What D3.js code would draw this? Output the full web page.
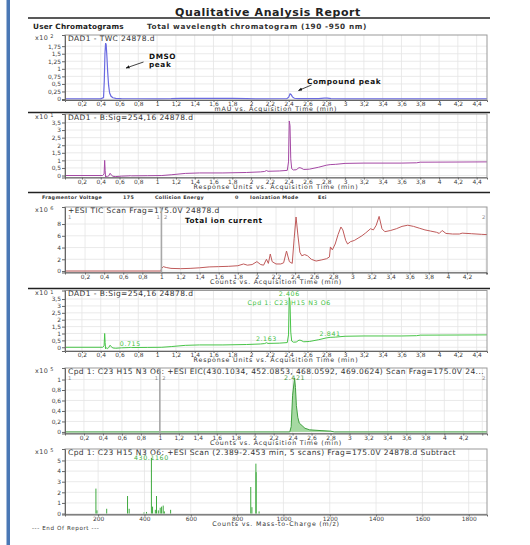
<!DOCTYPE html>
<html>
<head>
<meta charset="utf-8">
<script src="https://cdn.jsdelivr.net/npm/d3@7"></script>
<style>
  body { margin: 0; background: #fff; }
  svg { display: block; }
</style>
</head>
<body>
<svg id="report" width="530" height="545"></svg>
<script>
// ---- Data ---------------------------------------------------------------
// DAD1 total wavelength chromatogram: [time (min), mAU x10^2]
const twcTrace = [
  [0.02,0.005],[0.40,0.005],[0.43,0.05],[0.438,0.6],[0.445,1.5],[0.452,1.85],[0.458,1.8],
  [0.466,1.4],[0.474,0.9],[0.484,0.45],[0.495,0.2],[0.51,0.09],[0.53,0.04],[0.56,0.02],
  [0.62,0.01],[0.8,0.008],[1.0,0.006],[1.15,0.01],[1.25,0.02],[1.5,0.022],[1.8,0.02],
  [1.95,0.015],[2.05,0.006],[2.3,0.008],[2.38,0.012],[2.40,0.06],[2.415,0.17],[2.425,0.15],
  [2.44,0.07],[2.46,0.025],[2.5,0.01],[2.72,0.01],[2.78,0.03],[2.81,0.03],[2.85,0.01],
  [3.0,0.006],[3.5,0.005],[4.0,0.005],[4.51,0.005]
];

// DAD1 B: Sig=254,16 signal: [time (min), response x10^1]
const sigTrace = [
  [0.02,0],[0.42,0],[0.436,0.1],[0.442,1.0],[0.447,0.35],[0.452,-0.12],[0.462,-0.03],
  [0.472,-0.1],[0.485,-0.02],[0.50,0.15],[0.512,0.04],[0.53,-0.05],[0.56,-0.07],[0.62,-0.04],
  [0.70,-0.02],[0.715,-0.01],[0.73,-0.02],[0.9,-0.01],[1.05,0],[1.15,0.05],[1.3,0.14],
  [1.45,0.17],[1.7,0.17],[1.95,0.2],[2.1,0.24],[2.145,0.27],[2.163,0.33],[2.18,0.28],
  [2.3,0.3],[2.385,0.34],[2.398,0.9],[2.406,3.6],[2.414,3.3],[2.422,1.1],[2.432,0.45],
  [2.45,0.37],[2.48,0.38],[2.51,0.52],[2.53,0.5],[2.56,0.4],[2.62,0.42],[2.72,0.55],
  [2.8,0.68],[2.841,0.72],[2.9,0.74],[3.0,0.8],[3.2,0.82],[3.6,0.82],[3.76,0.84],
  [3.8,0.88],[4.2,0.89],[4.51,0.9]
];

// Integrated peaks on the 254 nm signal (retention times, min)
const sigPeakTimes = [0.715, 2.163, 2.406, 2.841];

// +ESI TIC: [time (min), counts x10^6]
const ticTrace = [
  [-0.01,0],[0.995,0],[1.0,0.4],[1.02,0.75],[1.05,0.6],[1.1,0.45],[1.2,0.4],[1.3,0.45],
  [1.4,0.55],[1.5,0.7],[1.6,0.75],[1.7,0.8],[1.8,0.9],[1.86,1.2],[1.9,1.0],[1.95,1.1],
  [2.0,1.6],[2.04,1.1],[2.07,1.0],[2.10,2.0],[2.12,1.3],[2.14,2.9],[2.16,1.6],[2.2,1.2],
  [2.25,1.2],[2.28,1.4],[2.31,3.4],[2.34,1.6],[2.37,1.3],[2.39,5.5],[2.41,9.2],[2.43,6.0],
  [2.45,3.2],[2.47,2.6],[2.50,2.8],[2.53,2.6],[2.57,2.0],[2.62,1.7],[2.68,1.9],[2.73,2.1],
  [2.76,2.4],[2.77,4.1],[2.79,3.6],[2.82,4.6],[2.85,6.2],[2.88,7.5],[2.90,7.0],[2.93,5.2],
  [2.95,4.6],[2.98,5.0],[3.02,5.2],[3.06,5.6],[3.1,6.0],[3.14,6.5],[3.19,7.2],[3.22,7.0],
  [3.25,7.8],[3.28,9.3],[3.31,7.2],[3.34,6.7],[3.4,6.9],[3.46,7.2],[3.52,7.6],[3.58,7.8],
  [3.64,7.6],[3.7,7.3],[3.76,7.0],[3.82,6.8],[3.88,6.6],[3.91,6.4],[3.94,6.9],[3.98,6.4],
  [4.05,6.3],[4.12,6.3],[4.15,6.45],[4.25,6.35],[4.35,6.25],[4.41,6.2]
];

// Cpd 1 extracted ion chromatogram: [time (min), counts x10^5]
const eicTrace = [
  [0,0],[2.37,0],[2.385,0.1],[2.40,0.7],[2.421,1.03],[2.43,0.85],[2.44,0.5],[2.455,0.28],
  [2.47,0.17],[2.5,0.12],[2.53,0.07],[2.58,0.04],[2.7,0.025],[2.8,0.015],[2.84,0],[4.45,0]
];
const eicApex = 2.421;

// Cpd 1 mass spectrum (2.389-2.453 min)
const specMz    = [190.5, 195, 237, 327, 334, 398, 409, 430.116, 435, 447, 452.09, 460,
                   468.06, 474, 481, 486, 513, 859, 864, 881.2, 882.2, 895];
const specAbund = [2.35, 0.3, 0.45, 1.65, 0.45, 0.1, 0.15, 5.25, 0.65, 0.35, 1.65, 0.3,
                   0.55, 0.65, 0.75, 0.2, 0.35, 2.5, 0.6, 4.7, 3.9, 0.2];
const specBasePeak = 430.116;

// Axis ticks
const timeTicks = [0.2,0.4,0.6,0.8,1,1.2,1.4,1.6,1.8,2,2.2,2.4,2.6,2.8,3,3.2,3.4,3.6,3.8,4,4.2,4.4];
const twcTicks  = [0,0.25,0.5,0.75,1,1.25,1.5,1.75];
const sigTicks  = [0,0.5,1,1.5,2,2.5,3,3.5];
const ticTicks  = [0,2,4,6,8];
const eicTicks  = [0,0.2,0.4,0.6,0.8,1];
const mzTicks   = [200,400,600,800,1000,1200,1400,1600,1800];
const specTicks = [0,1,2,3,4,5];

// ---- Drawing ------------------------------------------------------------
const FONT = '"DejaVu Sans", Verdana, sans-serif';
const svg = d3.select("#report").attr("font-family", FONT);
const L = 65, R = 487;
const comma = d => String(+d.toFixed(2)).replace(".", ",");
let clipId = 0;

// Frame, grid, axes and header for one chromatogram / spectrum box
function drawPanel(p) {
  const x = d3.scaleLinear().domain(p.xDomain).range([L, R]);
  const y = d3.scaleLinear().domain(p.yDomain).range([p.bottom, p.top]);
  const g = svg.append("g");

  g.append("g").selectAll("line").data(p.xTicks).join("line")
    .attr("x1", d => x(d)).attr("x2", d => x(d))
    .attr("y1", p.top).attr("y2", p.bottom)
    .attr("stroke", "#e4e4e4").attr("stroke-width", 0.8);
  g.append("g").selectAll("line").data(p.yTicks).join("line")
    .attr("x1", L).attr("x2", R)
    .attr("y1", d => y(d)).attr("y2", d => y(d))
    .attr("stroke", "#e4e4e4").attr("stroke-width", 0.8);

  const id = "clip" + (clipId++);
  g.append("clipPath").attr("id", id).append("rect")
    .attr("x", L).attr("y", p.top).attr("width", R - L).attr("height", p.bottom - p.top);
  const plot = g.append("g").attr("clip-path", `url(#${id})`);

  const frame = g.append("g");
  frame.append("rect")
    .attr("x", L).attr("y", p.top).attr("width", R - L).attr("height", p.bottom - p.top)
    .attr("fill", "none").attr("stroke", "#9a9a9a").attr("stroke-width", 1);

  const xa = frame.append("g").attr("transform", `translate(0,${p.bottom})`)
    .call(d3.axisBottom(x).tickValues(p.xTicks).tickFormat(p.xFormat)
      .tickSizeOuter(0).tickSize(2).tickPadding(0));
  const ya = frame.append("g").attr("transform", `translate(${L},0)`)
    .call(d3.axisLeft(y).tickValues(p.yTicks).tickFormat(p.yFormat)
      .tickSizeOuter(0).tickSize(3).tickPadding(1));
  [xa, ya].forEach(a => {
    a.attr("font-family", FONT).attr("font-size", 5.9);
    a.select(".domain").attr("stroke", "#666");
    a.selectAll(".tick line").attr("stroke", "#666");
    a.selectAll(".tick text").attr("fill", "#3c3c3c");
  });

  frame.append("text").attr("x", (L + R) / 2).attr("y", p.bottom + 11.4)
    .attr("text-anchor", "middle").attr("font-size", 6.3).attr("letter-spacing", 0.8)
    .attr("fill", "#333").text(p.xTitle);

  const mult = frame.append("text").attr("x", 35).attr("y", p.top + 4.5)
    .attr("font-size", 6.4).attr("letter-spacing", 0.4).attr("fill", "#444");
  mult.append("tspan").text("x10");
  mult.append("tspan").attr("dx", 2).attr("dy", -1.5).attr("font-size", 5).text(p.exponent);

  frame.append("text").attr("x", L + 3).attr("y", p.top + 5.5)
    .attr("font-size", 7.5).attr("letter-spacing", 0.42).attr("fill", "#333").text(p.header);

  return { x, y, plot, frame };
}

// Separators and report header
const rules = [18, 112.5, 192.5, 288.5];
svg.append("g").selectAll("line").data(rules).join("line")
  .attr("x1", 28).attr("x2", 490).attr("y1", d => d).attr("y2", d => d)
  .attr("stroke", "#222").attr("stroke-width", 1.3);

svg.append("rect").attr("x", 6.5).attr("y", 0).attr("width", 3.5).attr("height", 545)
  .attr("fill", "#4a78b5");

svg.append("text").attr("x", 268).attr("y", 15.5).attr("text-anchor", "middle")
  .attr("font-size", 11).attr("letter-spacing", 0.6).attr("font-weight", "bold").attr("fill", "#222")
  .text("Qualitative Analysis Report");
svg.append("text").attr("x", 33).attr("y", 29).attr("font-size", 7.3).attr("letter-spacing", 0.2)
  .attr("font-weight", "bold").attr("fill", "#222").text("User Chromatograms");
svg.append("text").attr("x", 147).attr("y", 28.5).attr("font-size", 7.3).attr("letter-spacing", 0.6)
  .attr("font-weight", "bold").attr("fill", "#333")
  .text("Total wavelength chromatogram (190 -950 nm)");

// Panel 1: TWC
{
  const p = drawPanel({
    top: 35, bottom: 100, xDomain: [0.02, 4.51], yDomain: [-0.033, 2.12],
    xTicks: timeTicks, yTicks: twcTicks, xFormat: comma, yFormat: comma,
    exponent: "2", header: "DAD1 - TWC 24878.d", xTitle: "mAU vs. Acquisition Time (min)"
  });
  p.plot.append("path").datum(twcTrace)
    .attr("d", d3.line().x(d => p.x(d[0])).y(d => p.y(d[1])))
    .attr("fill", "none").attr("stroke", "#6a6ae0").attr("stroke-width", 1.2);

  const note = svg.append("g").attr("fill", "#111").attr("font-weight", "bold")
    .attr("font-size", 7.3).attr("letter-spacing", 0.6);
  note.append("text").attr("x", 149).attr("y", 59).text("DMSO");
  note.append("text").attr("x", 149).attr("y", 66.5).text("peak");
  note.append("text").attr("x", 307).attr("y", 83.5).text("Compound peak");

  const defs = svg.append("defs");
  defs.append("marker").attr("id", "arrow").attr("viewBox", "0 0 10 10")
    .attr("refX", 9).attr("refY", 5).attr("markerWidth", 5).attr("markerHeight", 5)
    .attr("orient", "auto")
    .append("path").attr("d", "M0,1 L10,5 L0,9 z").attr("fill", "#111");
  const arrows = [[143.5, 62, 126, 68], [311.5, 85, 298.5, 90.5]];
  svg.append("g").selectAll("line").data(arrows).join("line")
    .attr("x1", d => d[0]).attr("y1", d => d[1]).attr("x2", d => d[2]).attr("y2", d => d[3])
    .attr("stroke", "#111").attr("stroke-width", 0.8).attr("marker-end", "url(#arrow)");
}

// Panel 2: 254 nm signal
{
  const p = drawPanel({
    top: 114, bottom: 177.5, xDomain: [0.02, 4.51], yDomain: [-0.13, 4.06],
    xTicks: timeTicks, yTicks: sigTicks, xFormat: comma, yFormat: comma,
    exponent: "1", header: "DAD1 - B:Sig=254,16 24878.d",
    xTitle: "Response Units vs. Acquisition Time (min)"
  });
  p.plot.append("path").datum(sigTrace)
    .attr("d", d3.line().x(d => p.x(d[0])).y(d => p.y(d[1])))
    .attr("fill", "none").attr("stroke", "#a448a4").attr("stroke-width", 1);
}

// Acquisition settings line
{
  const items = [
    [42, "Fragmentor Voltage"], [123, "175"], [155, "Collision Energy"],
    [235, "0"], [250, "Ionization Mode"], [318, "Esi"]
  ];
  svg.append("g").selectAll("text").data(items).join("text")
    .attr("x", d => d[0]).attr("y", 198.5).attr("font-size", 4.8).attr("letter-spacing", 0.35)
    .attr("font-weight", "bold").attr("fill", "#333").text(d => d[1]);
}

// Segment markers used on the MS traces
function segmentMarks(p, top) {
  p.frame.append("line").attr("x1", p.x(1)).attr("x2", p.x(1))
    .attr("y1", top).attr("y2", p.y.range()[0])
    .attr("stroke", "#a8a8a8").attr("stroke-width", 1.6);
  const marks = [[L + 3, "1"], [p.x(1) - 5, "1"], [p.x(1) + 2.5, "2"], [R - 5, "2"]];
  p.frame.append("g").selectAll("text").data(marks).join("text")
    .attr("x", d => d[0]).attr("y", top + 12).attr("font-size", 5.2)
    .attr("fill", "#888").text(d => d[1]);
}

// Panel 3: TIC
{
  const p = drawPanel({
    top: 207, bottom: 272.5, xDomain: [-0.01, 4.41], yDomain: [-0.25, 10.9],
    xTicks: timeTicks, yTicks: ticTicks, xFormat: d => (d > 4.3 ? "" : comma(d)), yFormat: comma,
    exponent: "6", header: "+ESI TIC Scan Frag=175.0V 24878.d",
    xTitle: "Counts vs. Acquisition Time (min)"
  });
  segmentMarks(p, 207);
  p.plot.append("path").datum(ticTrace)
    .attr("d", d3.line().x(d => p.x(d[0])).y(d => p.y(d[1])))
    .attr("fill", "none").attr("stroke", "#bf5a5a").attr("stroke-width", 1);
  svg.append("text").attr("x", 185).attr("y", 222.5).attr("font-size", 7.3)
    .attr("letter-spacing", 0.55)
    .attr("font-weight", "bold").attr("fill", "#111").text("Total ion current");
}

// Panel 4: 254 nm signal with integrated peaks
{
  const p = drawPanel({
    top: 290.5, bottom: 351, xDomain: [0.02, 4.51], yDomain: [-0.27, 4.12],
    xTicks: timeTicks, yTicks: sigTicks, xFormat: comma, yFormat: comma,
    exponent: "1", header: "DAD1 - B:Sig=254,16 24878.d",
    xTitle: "Response Units vs. Acquisition Time (min)"
  });
  p.plot.append("path").datum(sigTrace)
    .attr("d", d3.line().x(d => p.x(d[0])).y(d => p.y(d[1])))
    .attr("fill", "none").attr("stroke", "#48c448").attr("stroke-width", 1);

  const valueAt = t => {
    const i = d3.bisector(d => d[0]).left(sigTrace, t);
    const a = sigTrace[Math.max(0, i - 1)], b = sigTrace[Math.min(sigTrace.length - 1, i)];
    return a[0] === b[0] ? a[1] : a[1] + (b[1] - a[1]) * (t - a[0]) / (b[0] - a[0]);
  };
  const lbl = svg.append("g").attr("font-size", 6.3).attr("letter-spacing", 0.6)
    .attr("fill", "#44bf44").attr("text-anchor", "middle");
  lbl.selectAll("text").data(sigPeakTimes).join("text")
    .attr("x", d => p.x(d))
    .attr("y", d => p.y(valueAt(d)) - 1.5)
    .text(d => d.toFixed(3));
  const apex = d3.max(sigTrace, d => d[1]);
  lbl.append("text").attr("x", p.x(2.406)).attr("y", p.y(apex) + 7)
    .text("Cpd 1: C23 H15 N3 O6");
}

// Panel 5: EIC
{
  const p = drawPanel({
    top: 368, bottom: 433.5, xDomain: [0, 4.45], yDomain: [-0.03, 1.22],
    xTicks: timeTicks, yTicks: eicTicks, xFormat: d => (d > 4.3 ? "" : comma(d)), yFormat: comma,
    exponent: "5",
    header: "Cpd 1: C23 H15 N3 O6: +ESI EIC(430.1034, 452.0853, 468.0592, 469.0624) Scan Frag=175.0V 24...",
    xTitle: "Counts vs. Acquisition Time (min)"
  });
  segmentMarks(p, 368);
  p.plot.append("path").datum(eicTrace)
    .attr("d", d3.area().x(d => p.x(d[0])).y0(p.y(0)).y1(d => p.y(d[1])))
    .attr("fill", "#a6d9a2");
  p.plot.append("path").datum(eicTrace)
    .attr("d", d3.line().x(d => p.x(d[0])).y(d => p.y(d[1])))
    .attr("fill", "none").attr("stroke", "#3f9f3f").attr("stroke-width", 1);
  const apexVal = eicTrace.find(d => d[0] === eicApex)[1];
  svg.append("text").attr("x", p.x(eicApex)).attr("y", p.y(apexVal) + 2.5)
    .attr("text-anchor", "middle").attr("font-size", 6.3).attr("letter-spacing", 0.6)
    .attr("fill", "#4a9a4a").text(eicApex.toFixed(3));
}

// Panel 6: mass spectrum
{
  const p = drawPanel({
    top: 449, bottom: 514.5, xDomain: [57, 1879], yDomain: [-0.09, 6.08],
    xTicks: mzTicks, yTicks: specTicks, xFormat: d => String(d), yFormat: d => String(d),
    exponent: "5",
    header: "Cpd 1: C23 H15 N3 O6: +ESI Scan (2.389-2.453 min, 5 scans) Frag=175.0V 24878.d  Subtract",
    xTitle: "Counts vs. Mass-to-Charge (m/z)"
  });
  const peaks = d3.zip(specMz, specAbund);
  p.plot.append("g").selectAll("line").data(peaks).join("line")
    .attr("x1", d => p.x(d[0])).attr("x2", d => p.x(d[0]))
    .attr("y1", p.y(0)).attr("y2", d => p.y(d[1]))
    .attr("stroke", "#3faa3f").attr("stroke-width", 1);
  const baseAbund = specAbund[specMz.indexOf(specBasePeak)];
  svg.append("text").attr("x", p.x(specBasePeak)).attr("y", p.y(baseAbund) + 2.5)
    .attr("text-anchor", "middle").attr("font-size", 6.3).attr("letter-spacing", 0.6)
    .attr("fill", "#44b044").text(specBasePeak.toFixed(4));
}

svg.append("text").attr("x", 32).attr("y", 530).attr("font-size", 5.6).attr("letter-spacing", 0.6)
  .attr("fill", "#333").text("--- End Of Report ---");
</script>
</body>
</html>
